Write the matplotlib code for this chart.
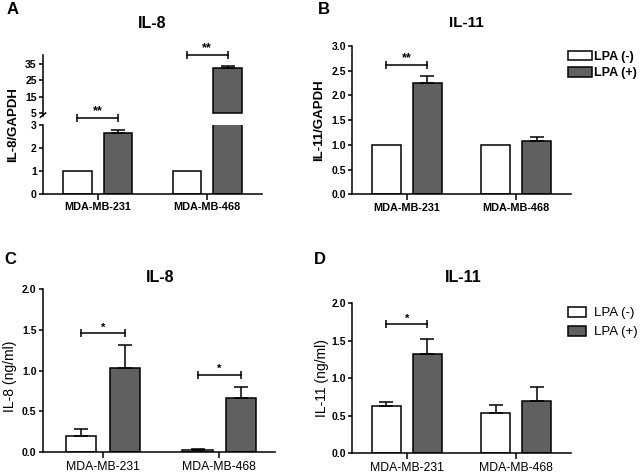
import numpy as np
import matplotlib
matplotlib.use("Agg")
import matplotlib.pyplot as plt
from matplotlib.patches import Patch

plt.rcParams['font.family'] = ['Liberation Sans', 'DejaVu Sans']

# ---- data ----
GROUPS = ["MDA-MB-231", "MDA-MB-468"]
LEGEND = ["LPA (-)", "LPA (+)"]

# A: IL-8 / GAPDH (broken axis)
A_NEG = [1.0, 1.0]
A_NEG_ERR = [0.0, 0.0]
A_POS = [2.65, 32.6]
A_POS_ERR = [0.15, 1.0]
A_SIG = ["**", "**"]

# B: IL-11 / GAPDH
B_NEG = [1.0, 1.0]
B_NEG_ERR = [0.0, 0.0]
B_POS = [2.25, 1.08]
B_POS_ERR = [0.14, 0.07]
B_SIG = ["**", ""]

# C: IL-8 (ng/ml)
C_NEG = [0.20, 0.03]
C_NEG_ERR = [0.085, 0.01]
C_POS = [1.03, 0.66]
C_POS_ERR = [0.28, 0.14]
C_SIG = ["*", "*"]

# D: IL-11 (ng/ml)
D_NEG = [0.63, 0.54]
D_NEG_ERR = [0.05, 0.10]
D_POS = [1.32, 0.70]
D_POS_ERR = [0.21, 0.19]
D_SIG = ["*", ""]

FW, FH = 642, 476
GRAY = "#606060"
BW, OFF = 0.26, 0.187
LW = 1.1


def box(l, t, r, b):
    """pixel box -> figure fraction rect"""
    return [l / FW, 1 - b / FH, (r - l) / FW, (b - t) / FH]


def style(ax, ytick_size=7.5, xtick_size=7.8, xbold=True):
    for s in ("top", "right"):
        ax.spines[s].set_visible(False)
    for s in ("left", "bottom"):
        ax.spines[s].set_linewidth(LW)
    ax.tick_params(axis="y", direction="out", length=3, width=LW, pad=1.5,
                   labelsize=ytick_size)
    ax.tick_params(axis="x", direction="out", length=4, width=LW, pad=2,
                   labelsize=xtick_size)
    for t in ax.get_yticklabels():
        t.set_fontweight("bold")
    ax.set_xticks(range(len(GROUPS)))
    ax.set_xticklabels(GROUPS, fontweight="bold" if xbold else "normal")
    ax.patch.set_visible(False)


def bars(ax, vals, errs, offset, color, bottom=0.0):
    x = np.arange(len(vals)) + offset
    v = np.asarray(vals, dtype=float)
    ax.bar(x, v - bottom, BW, bottom=bottom, color=color, edgecolor="k",
           linewidth=LW, zorder=2)
    e = np.asarray(errs, dtype=float)
    m = e > 0
    if m.any():
        ax.errorbar(x[m], v[m], yerr=[np.zeros(m.sum()), e[m]], fmt="none",
                    ecolor="k", elinewidth=LW, capsize=5, capthick=LW,
                    zorder=3)


def bracket(ax, g, y, text, size=9):
    x1, x2 = g - OFF, g + OFF
    ax.plot([x1, x2], [y, y], color="k", lw=LW, marker="|", ms=6, mew=LW,
            clip_on=False, zorder=4)
    ax.annotate(text, xy=(g, y), xytext=(0, 0.5), textcoords="offset points",
                ha="center", va="bottom", fontsize=size, fontweight="bold",
                annotation_clip=False)


fig = plt.figure(figsize=(FW / 100, FH / 100), dpi=100)

# ---------- A (broken y axis) ----------
axAl = fig.add_axes(box(43, 125, 262, 194))
axAu = fig.add_axes(box(43, 55, 262, 116))
bars(axAl, A_NEG, A_NEG_ERR, -OFF, "white")
bars(axAl, A_POS, A_POS_ERR, OFF, GRAY)
axAl.set_ylim(0, 3)
axAl.set_yticks([0, 1, 2, 3])
axAl.set_xlim(-0.5, 1.5)
style(axAl)

BREAK_HI = 5
hi = [i for i, v in enumerate(A_POS) if v > BREAK_HI]
for i in hi:
    axAu.bar(i + OFF, A_POS[i] - BREAK_HI, BW, bottom=BREAK_HI, color=GRAY,
             edgecolor="k", linewidth=LW, zorder=2)
    axAu.errorbar([i + OFF], [A_POS[i]], yerr=[[0], [A_POS_ERR[i]]],
                  fmt="none", ecolor="k", elinewidth=LW, capsize=5,
                  capthick=LW, zorder=3)
axAu.set_ylim(3, 40.6)
axAu.set_yticks([5, 15, 25, 35])
axAu.set_xlim(-0.5, 1.5)
style(axAu)
axAu.spines["bottom"].set_visible(False)
axAu.tick_params(axis="x", bottom=False, labelbottom=False)
axAu.plot([-0.012, 0.012], [-0.02, 0.05], transform=axAu.transAxes,
          color="k", lw=LW, clip_on=False)

bracket(axAl, 0, 3.29, A_SIG[0])
bracket(axAu, 1, 40.5, A_SIG[1])

# ---------- B ----------
axB = fig.add_axes(box(352.3, 46, 570.7, 194.3))
bars(axB, B_NEG, B_NEG_ERR, -OFF, "white")
bars(axB, B_POS, B_POS_ERR, OFF, GRAY)
axB.set_ylim(0, 3)
axB.set_yticks(np.arange(0, 3.01, 0.5))
axB.set_yticklabels([f"{v:.1f}" for v in np.arange(0, 3.01, 0.5)])
axB.set_xlim(-0.5, 1.5)
style(axB)
bracket(axB, 0, 2.62, B_SIG[0])

# ---------- C ----------
axC = fig.add_axes(box(42.7, 289, 275, 452.3))
bars(axC, C_NEG, C_NEG_ERR, -OFF, "white")
bars(axC, C_POS, C_POS_ERR, OFF, GRAY)
axC.set_ylim(0, 2)
axC.set_yticks(np.arange(0, 2.01, 0.5))
axC.set_yticklabels([f"{v:.1f}" for v in np.arange(0, 2.01, 0.5)])
axC.set_xlim(-0.52, 1.48)
style(axC, xtick_size=8.8, xbold=False)
bracket(axC, 0, 1.46, C_SIG[0], size=8)
bracket(axC, 1, 0.95, C_SIG[1], size=8)

# ---------- D ----------
axD = fig.add_axes(box(352.3, 303.3, 570.7, 453.3))
bars(axD, D_NEG, D_NEG_ERR, -OFF, "white")
bars(axD, D_POS, D_POS_ERR, OFF, GRAY)
axD.set_ylim(0, 2)
axD.set_yticks(np.arange(0, 2.01, 0.5))
axD.set_yticklabels([f"{v:.1f}" for v in np.arange(0, 2.01, 0.5)])
axD.set_xlim(-0.5, 1.5)
style(axD, xtick_size=8.8, xbold=False)
bracket(axD, 0, 1.72, D_SIG[0], size=8)

# ---------- legends ----------
handles = [Patch(facecolor="white", edgecolor="k", linewidth=LW, label=LEGEND[0]),
           Patch(facecolor=GRAY, edgecolor="k", linewidth=LW, label=LEGEND[1])]
fig.legend(handles=handles, loc="upper left",
           bbox_to_anchor=(568 / FW, 1 - 51 / FH), frameon=False,
           borderpad=0, borderaxespad=0, handlelength=1.9, handleheight=0.75,
           handletextpad=0.2, labelspacing=0.35,
           prop=dict(weight="bold", size=9))
fig.legend(handles=handles, loc="upper left",
           bbox_to_anchor=(568 / FW, 1 - 307 / FH), frameon=False,
           borderpad=0, borderaxespad=0, handlelength=1.4, handleheight=0.75,
           handletextpad=0.6, labelspacing=0.5,
           prop=dict(size=9.5))

# ---------- titles, y labels, panel letters ----------
def ftext(x, y, s, **kw):
    fig.text(x / FW, 1 - y / FH, s, ha="center", va="center", **kw)

ftext(152, 23.5, "IL-8", fontsize=11.5, fontweight="bold")
ftext(466, 23, "IL-11", fontsize=11, fontweight="bold")
ftext(160, 278, "IL-8", fontsize=11.5, fontweight="bold")
ftext(463, 277.5, "IL-11", fontsize=11.5, fontweight="bold")

ftext(13, 125, "IL-8/GAPDH", fontsize=9.5, fontweight="bold", rotation=90)
ftext(319, 120, "IL-11/GAPDH", fontsize=9.5, fontweight="bold", rotation=90)
ftext(10, 376, "IL-8 (ng/ml)", fontsize=10, rotation=90)
ftext(322, 378, "IL-11 (ng/ml)", fontsize=10, rotation=90)

ftext(12.5, 9.5, "A", fontsize=12, fontweight="bold")
ftext(324, 10, "B", fontsize=12, fontweight="bold")
ftext(10, 259, "C", fontsize=12, fontweight="bold")
ftext(320, 260, "D", fontsize=12, fontweight="bold")

fig.savefig("out.png", dpi=100)
